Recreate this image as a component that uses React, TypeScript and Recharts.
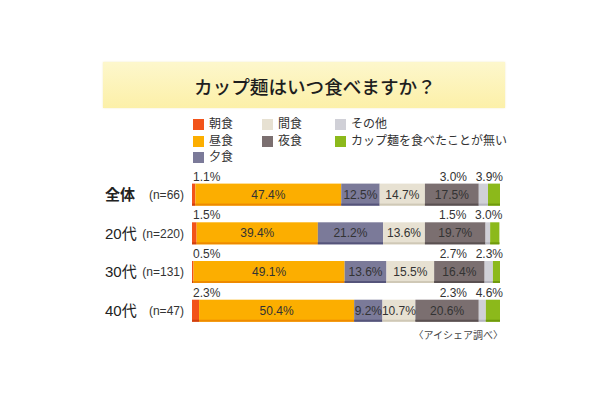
import { Bar, BarChart, LabelList, XAxis, YAxis } from 'recharts';

const groups = ['全体', '20代', '30代', '40代'];
const sampleSizes = [66, 220, 131, 47];
const breakfast = [1.1, 1.5, 0.5, 2.3];
const lunch = [47.4, 39.4, 49.1, 50.4];
const dinner = [12.5, 21.2, 13.6, 9.2];
const snack = [14.7, 13.6, 15.5, 10.7];
const lateNight = [17.5, 19.7, 16.4, 20.6];
const other = [3.0, 1.5, 2.7, 2.3];
const never = [3.9, 3.0, 2.3, 4.6];

const series = [
  { key: 'breakfast', name: '朝食', color: '#f2531a', dark: '#d0400e' },
  { key: 'lunch', name: '昼食', color: '#fcae00', dark: '#ee8a00' },
  { key: 'dinner', name: '夕食', color: '#7b7a99', dark: '#55547a' },
  { key: 'snack', name: '間食', color: '#e7e1d2', dark: '#cfc8b6' },
  { key: 'lateNight', name: '夜食', color: '#7b6f70', dark: '#5a5051' },
  { key: 'other', name: 'その他', color: '#d0d0d7', dark: '#b5b5bf' },
  { key: 'never', name: 'カップ麺を食べたことが無い', color: '#8cb91b', dark: '#6f9a0c' },
];

const data = groups.map((group, i) => ({
  group,
  n: sampleSizes[i],
  breakfast: breakfast[i],
  lunch: lunch[i],
  dinner: dinner[i],
  snack: snack[i],
  lateNight: lateNight[i],
  other: other[i],
  never: never[i],
}));

const FONT = '"Liberation Sans", Arial, "Noto Sans CJK JP", sans-serif';
const pct = (v: number) => `${v.toFixed(1)}%`;

const legendPos: Record<string, { left: number; top: number }> = {
  breakfast: { left: 193, top: 119 },
  lunch: { left: 193, top: 136 },
  dinner: { left: 193, top: 152 },
  snack: { left: 262, top: 119 },
  lateNight: { left: 262, top: 136 },
  other: { left: 335, top: 119 },
  never: { left: 335, top: 136 },
};

const Segment = (props: any) => {
  const { x, y, width, height, fill, dark } = props;
  if (!width || width <= 0) return null;
  return (
    <g>
      <rect x={x} y={y} width={width} height={height} fill={fill} />
      <rect x={x} y={y + height - 2} width={width} height={2} fill={dark} />
    </g>
  );
};

const RowTick = (props: any) => {
  const { y, payload, index } = props;
  const bold = payload.value === '全体';
  return (
    <g>
      <text x={105} y={y + 5} fontSize={15} fontWeight={bold ? 'bold' : 'normal'} fill='#222' fontFamily={FONT}>
        {payload.value}
      </text>
      <text x={184} y={y + 4} fontSize={12} textAnchor='end' fill='#333' fontFamily={FONT}>
        (n={sampleSizes[index]})
      </text>
    </g>
  );
};

const InsideLabel = (props: any) => {
  const { x, y, width, height, value } = props;
  return (
    <text x={x + width / 2} y={y + height / 2 + 4} fontSize={12} textAnchor='middle' fill='#333' fontFamily={FONT}>
      {pct(value)}
    </text>
  );
};

const BreakfastLabel = (props: any) => {
  const { x, y, value } = props;
  return (
    <text x={x + 1} y={y - 3} fontSize={12} fill='#333' fontFamily={FONT}>
      {pct(value)}
    </text>
  );
};

const TailLabel = (props: any) => {
  const { x, y, width, value, index } = props;
  const end = x + width + 3;
  return (
    <g fontSize={12} fill='#333' fontFamily={FONT} textAnchor='end'>
      <text x={end - 36} y={y - 3}>{pct(other[index])}</text>
      <text x={end} y={y - 3}>{pct(value)}</text>
    </g>
  );
};

export default function App() {
  return (
    <div style={{ position: 'absolute', left: 0, top: 0, width: 610, height: 400, background: '#fff', fontFamily: FONT }}>
      <div
        style={{
          position: 'absolute',
          left: 103,
          top: 62,
          width: 402,
          height: 46,
          background: 'linear-gradient(#fdf7cc, #fcf0a8)',
          boxShadow: '0 0 2px #f3ecc8',
          display: 'flex',
          alignItems: 'center',
          boxSizing: 'border-box',
          paddingLeft: 91,
          fontSize: 18.6,
          color: '#1e1e1e',
          fontWeight: 500,
        }}
      >
        カップ麺はいつ食べますか？
      </div>

      {series.map((s) => (
        <div
          key={s.key}
          style={{
            position: 'absolute',
            left: legendPos[s.key].left,
            top: legendPos[s.key].top,
            display: 'flex',
            alignItems: 'center',
            fontSize: 12,
            color: '#333',
            lineHeight: '11px',
            whiteSpace: 'nowrap',
          }}
        >
          <span style={{ width: 11, height: 11, background: s.color, marginRight: 5, display: 'inline-block' }} />
          {s.name}
        </div>
      ))}

      <BarChart
        width={610}
        height={400}
        data={data}
        layout='vertical'
        margin={{ top: 175.6, bottom: 69.6, left: 100, right: 110 }}
        barSize={22}
        style={{ position: 'absolute', left: 0, top: 0 }}
      >
        <XAxis type='number' domain={[0, 100.1]} hide />
        <YAxis type='category' dataKey='group' width={92} axisLine={false} tickLine={false} tick={<RowTick />} />
        {series.map((s) => (
          <Bar
            key={s.key}
            dataKey={s.key}
            name={s.name}
            stackId='a'
            fill={s.color}
            isAnimationActive={false}
            shape={(p: any) => <Segment {...p} fill={s.color} dark={s.dark} />}
          >
            {s.key === 'breakfast' && <LabelList dataKey={s.key} content={<BreakfastLabel />} />}
            {['lunch', 'dinner', 'snack', 'lateNight'].includes(s.key) && (
              <LabelList dataKey={s.key} content={<InsideLabel />} />
            )}
            {s.key === 'never' && <LabelList dataKey={s.key} content={<TailLabel />} />}
          </Bar>
        ))}
      </BarChart>

      <div style={{ position: 'absolute', right: 107, top: 327, fontSize: 10, color: '#444' }}>〈アイシェア調べ〉</div>
    </div>
  );
}
